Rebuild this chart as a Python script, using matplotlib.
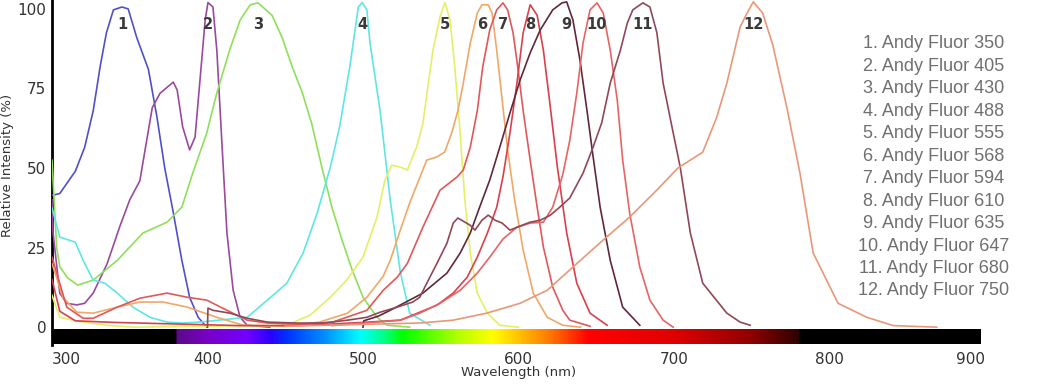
import matplotlib
matplotlib.use("Agg")
import matplotlib.pyplot as plt
import numpy as np
from matplotlib.colors import LinearSegmentedColormap

# emission spectra (wavelength nm, relative intensity %)
wl_350 = [300, 300.8, 305, 315, 321, 326.5, 331, 335, 339.5, 345, 349, 354.5, 362, 367.5, 372.5, 378, 383.5, 388.5, 394, 399.5]
ri_350 = [41.5, 41.5, 42, 49, 56.5, 68, 82, 92.5, 99.7, 100.6, 100, 91, 81, 66, 50, 36, 21, 9.4, 3.1, 0]

wl_405 = [300, 300.6, 305, 309.5, 316, 321, 326.5, 335.5, 343.5, 350, 356.5, 361, 364.5, 369.5, 378, 380.5, 384,
          388.5, 392, 395, 398.5, 400.3, 403.5, 406, 409.5, 412.5, 416.5, 421, 425.5, 440]
ri_405 = [40, 30, 10.7, 7.5, 7, 7.5, 10.7, 20, 31.5, 40, 46, 59, 69, 73.5, 77, 74.5, 63,
          55.7, 59.7, 76.7, 96.5, 102, 100.6, 87, 55.7, 29.6, 11.6, 3.1, 0.6, 0]

wl_430 = [300, 303, 305, 310, 316.5, 326.5, 342, 358.5, 374, 383.5, 390.5, 399.5, 406, 414.5, 421, 427.5, 432.5,
          441.5, 448, 454.5, 461, 467, 473.5, 480, 486.5, 493, 500, 509, 515.5, 530]
ri_430 = [52.5, 25, 19, 15.5, 13.2, 14.8, 21, 29.6, 33, 37.7, 48.4, 61, 73.6, 87.5, 96.5, 101.3, 101.9,
          98, 91, 81.8, 73.6, 64, 50.3, 37.7, 27.4, 18, 9.4, 3.1, 0.6, 0]

wl_488 = [300, 305, 315, 320, 326.5, 334, 342, 352, 363, 374, 384, 395, 425.5, 438.5, 451, 461.5, 470.5, 479,
          485, 491.5, 497, 499.5, 502.5, 504.5, 511, 517.5, 524, 530, 543]
ri_488 = [37.5, 28.3, 26.7, 21, 14.8, 13.8, 10.7, 6.3, 3.1, 1.6, 1.3, 1.6, 3.1, 8.5, 13.8, 23.3, 35.8, 50.3,
          63, 81.8, 100.6, 102, 99.7, 89.3, 68, 40, 17.3, 4.4, 0.6]

wl_555 = [300, 305, 320, 335, 352, 451, 466, 479, 489.5, 500, 509, 514, 518.5, 524, 528.5, 534.5, 538.5, 542,
          545, 549.5, 552.7, 556, 559, 562.5, 565.5, 569, 573.5, 580, 588, 600]
ri_555 = [10, 3.1, 1.6, 0.6, 0, 0.6, 3.8, 9.4, 14.8, 22, 34.6, 46, 50.9, 50.3, 49.4, 56.6, 64, 76.7,
          87, 97.5, 102, 96.5, 81.8, 61, 40, 23.3, 10.7, 4.4, 0.6, 0]

wl_568 = [300, 307, 316, 326.5, 342, 356.5, 371.5, 387, 406, 423, 450, 472, 490, 502.5, 513, 517.5, 524, 530,
          536.5, 541, 547.5, 552.5, 557, 561, 564.5, 569, 573.5, 576.5, 580.5, 583, 586, 589.5, 593, 597.5,
          603, 609.5, 618.5, 628.5, 640]
ri_568 = [20, 9.4, 4.7, 4.4, 6.3, 7.9, 7.9, 6.3, 3.1, 0.6, 0.3, 1.6, 4.4, 9.4, 16, 21, 30.5, 39,
          47, 52.5, 53.5, 55, 61, 68, 76.7, 89.3, 98.7, 101.3, 101.3, 98.7, 87, 71.4, 55.7, 40,
          24.2, 10.7, 3.1, 0.6, 0]

wl_594 = [300, 309.5, 320, 326.5, 342, 356.5, 374, 387, 399.5, 412.5, 425.5, 438.5, 459.5, 480.5, 502.5, 513,
          522, 528.5, 538.5, 549.5, 560.5, 564.5, 569, 573.5, 577, 581.5, 586, 590, 593, 596.5, 599.5, 603,
          607.5, 612, 616, 622, 628.5, 633, 646]
ri_594 = [22, 6.3, 2.8, 2.8, 6.3, 9.1, 10.7, 9.4, 8.5, 5.3, 2.2, 1.3, 0.9, 1.6, 5.3, 11.6,
          15.7, 20, 31.4, 43, 47.2, 49.4, 56.6, 68, 81.8, 93.4, 99.7, 101.9, 99.7, 92.5, 81.8, 68,
          52.5, 37.7, 25.2, 12.6, 5.3, 2.2, 0.3]

wl_610 = [300, 305, 315, 340, 380, 420, 460, 500, 524, 535, 547.5, 558, 567, 573.5, 580, 586, 590, 594.5,
          599, 603, 607.5, 612, 616, 620.5, 625, 631, 637.5, 646, 657]
ri_610 = [15, 5, 2, 1.5, 1, 0.5, 0.5, 1.5, 2.2, 4.4, 6.9, 10.7, 15.7, 22, 29.6, 37.7, 47.2, 61,
          76.7, 92.5, 101.3, 98, 87, 69, 50.3, 29.6, 13.8, 4.4, 0.6]

wl_635 = [500, 500.5, 510, 517.5, 538.5, 554, 562.5, 569, 575, 581.5, 588, 594.5, 601, 607.5, 614, 622, 628,
          631, 635, 639.5, 644, 648, 652.5, 659, 667, 678]
ri_635 = [0, 2, 3.5, 5.3, 10.7, 17, 23.3, 29.6, 37.7, 46.2, 56.6, 67.3, 77.6, 86.2, 93.4, 99.7, 101.9,
          102.2, 96.5, 84, 68.2, 53.5, 37.7, 21, 6.3, 0.6]

wl_647 = [480, 524, 536.5, 549.5, 562.5, 573.5, 581.5, 590, 599, 607.5, 616, 622, 628.5, 633, 637.5, 641.5,
          646, 650.5, 654.5, 659, 663.5, 667, 671.5, 678, 684.5, 693, 699.5]
ri_647 = [0.5, 2.2, 4.4, 7.5, 11.6, 17, 22, 27.7, 31.4, 32.7, 33, 37.7, 48, 58.8, 73.6, 89.3,
          99.7, 101.9, 98.7, 87, 71.4, 52.5, 35.8, 18.9, 8.5, 2.2, 0]

wl_680 = [400, 400.3, 403.5, 414.5, 425.5, 438.5, 457.5, 474.5, 490, 502.5, 511, 522, 532, 536.5, 541, 547.5,
          554, 558, 561, 565.5, 569, 572, 576.5, 580.5, 585, 589.5, 594.5, 599, 607.5, 614, 620.5, 626.5,
          633, 641.5, 648, 653.5, 659, 665.5, 670, 673.5, 680, 684.5, 689, 693, 699.5, 704, 710.5, 718.5,
          734, 742.5, 749]
ri_680 = [0, 6, 5.3, 4.4, 2.8, 1.6, 1.3, 1.3, 2.2, 3.1, 4.7, 6.3, 7.9, 9.4, 13.8, 20,
          26.4, 32.7, 34.3, 33, 32, 30.5, 33.6, 35.2, 33.6, 32.7, 30.5, 31.4, 33, 33.6, 35.2, 37.7,
          40.6, 48.4, 56.6, 64.2, 76.7, 87, 95.6, 99.7, 101.9, 100.6, 92.5, 76.7, 61, 50.3, 29.6, 13.8,
          4.4, 1.6, 0.6]

wl_750 = [450, 536.5, 558, 579.5, 601, 618.5, 635, 654.5, 671.5, 689, 702.5, 718.5, 727.5, 734, 742.5, 747,
          751, 757, 763.5, 772.5, 781, 789.5, 805.5, 824, 841, 869]
ri_750 = [0.3, 1.3, 2.2, 4.4, 7.5, 11.6, 18.9, 27.4, 34.6, 43.1, 50, 55, 66, 76.7, 94.3, 98.7,
          102.2, 98.7, 88.7, 69.2, 48.4, 23.3, 7.5, 3.1, 0.5, 0]

dyes = ["350", "405", "430", "488", "555", "568", "594", "610", "635", "647", "680", "750"]
spectra = [(wl_350, ri_350), (wl_405, ri_405), (wl_430, ri_430), (wl_488, ri_488),
           (wl_555, ri_555), (wl_568, ri_568), (wl_594, ri_594), (wl_610, ri_610),
           (wl_635, ri_635), (wl_647, ri_647), (wl_680, ri_680), (wl_750, ri_750)]
colors = ["#5050c8", "#9a4a9e", "#8ee05a", "#5ee6e6", "#e4f064", "#f0a868",
          "#e05858", "#d8404c", "#602838", "#e86464", "#904858", "#e89878"]

# visible spectrum bar
spec_nm = [380, 400, 425, 440, 450, 475, 498, 512, 525, 560, 583, 605, 622, 645, 700, 750, 780]
spec_col = ["#5c0a8c", "#7a00c8", "#7000ff", "#2a00ff", "#0030ff", "#0090ff", "#00ffff", "#00ff90",
            "#00ff00", "#b0ff00", "#ffff00", "#ffb000", "#ff7000", "#ff0000", "#e00000", "#900000", "#300000"]

fig = plt.figure(figsize=(10.41, 3.92), dpi=100)
ax = fig.add_axes([52 / 1041, 47 / 392, 933 / 1041, 345 / 392])

pos = [(n - spec_nm[0]) / (spec_nm[-1] - spec_nm[0]) for n in spec_nm]
cmap = LinearSegmentedColormap.from_list("vis", list(zip(pos, spec_col)))
grid = np.linspace(300, 897, 1500)
rgb = cmap(np.clip((grid - 380) / 400, 0, 1))
rgb[(grid < 380) | (grid > 780)] = [0, 0, 0, 1]
ax.imshow(rgb[np.newaxis, :, :], extent=[300, 897, -5.3, -0.6], aspect="auto", zorder=1)

for (wl, ri), c in zip(spectra, colors):
    ax.plot(wl, ri, color=c, linewidth=1.2, zorder=3)

for i, (wl, ri) in enumerate(spectra):
    peak = wl[int(np.argmax(ri))]
    ax.text(peak, 95, str(i + 1), ha="center", va="center", fontsize=10.5,
            fontweight="bold", color="#3a3a3a", zorder=4)

ax.set_xlim(300, 900)
ax.set_ylim(-5.6, 102.8)
ax.set_xticks([300, 400, 500, 600, 700, 800, 900])
ax.set_yticks([0, 25, 50, 75, 100])
ax.tick_params(length=0, labelsize=11, labelcolor="#333333")
ax.tick_params(axis="x", pad=5)
ax.tick_params(axis="y", pad=4)
xl = ax.get_xticklabels()
xl[0].set_ha("left")
xl[-1].set_ha("right")

for s in ["top", "right", "bottom"]:
    ax.spines[s].set_visible(False)
ax.spines["left"].set_linewidth(2)
ax.spines["left"].set_color("black")

ax.set_xlabel("Wavelength (nm)", fontsize=9.5, color="#333333")
ax.set_ylabel("Relative Intensity (%)", fontsize=9.5, color="#333333")
ax.xaxis.set_label_coords(0.5, -0.062)
ax.yaxis.set_label_coords(-0.041, 0.52)

for i, d in enumerate(dyes):
    fig.text(934 / 1041, 1 - (44 + i * 22.45) / 392, f"{i + 1}. Andy Fluor {d}",
             ha="center", va="center", fontsize=13, color="#707070",
             family=["Liberation Sans", "DejaVu Sans"])

fig.savefig("out.png", dpi=100)
